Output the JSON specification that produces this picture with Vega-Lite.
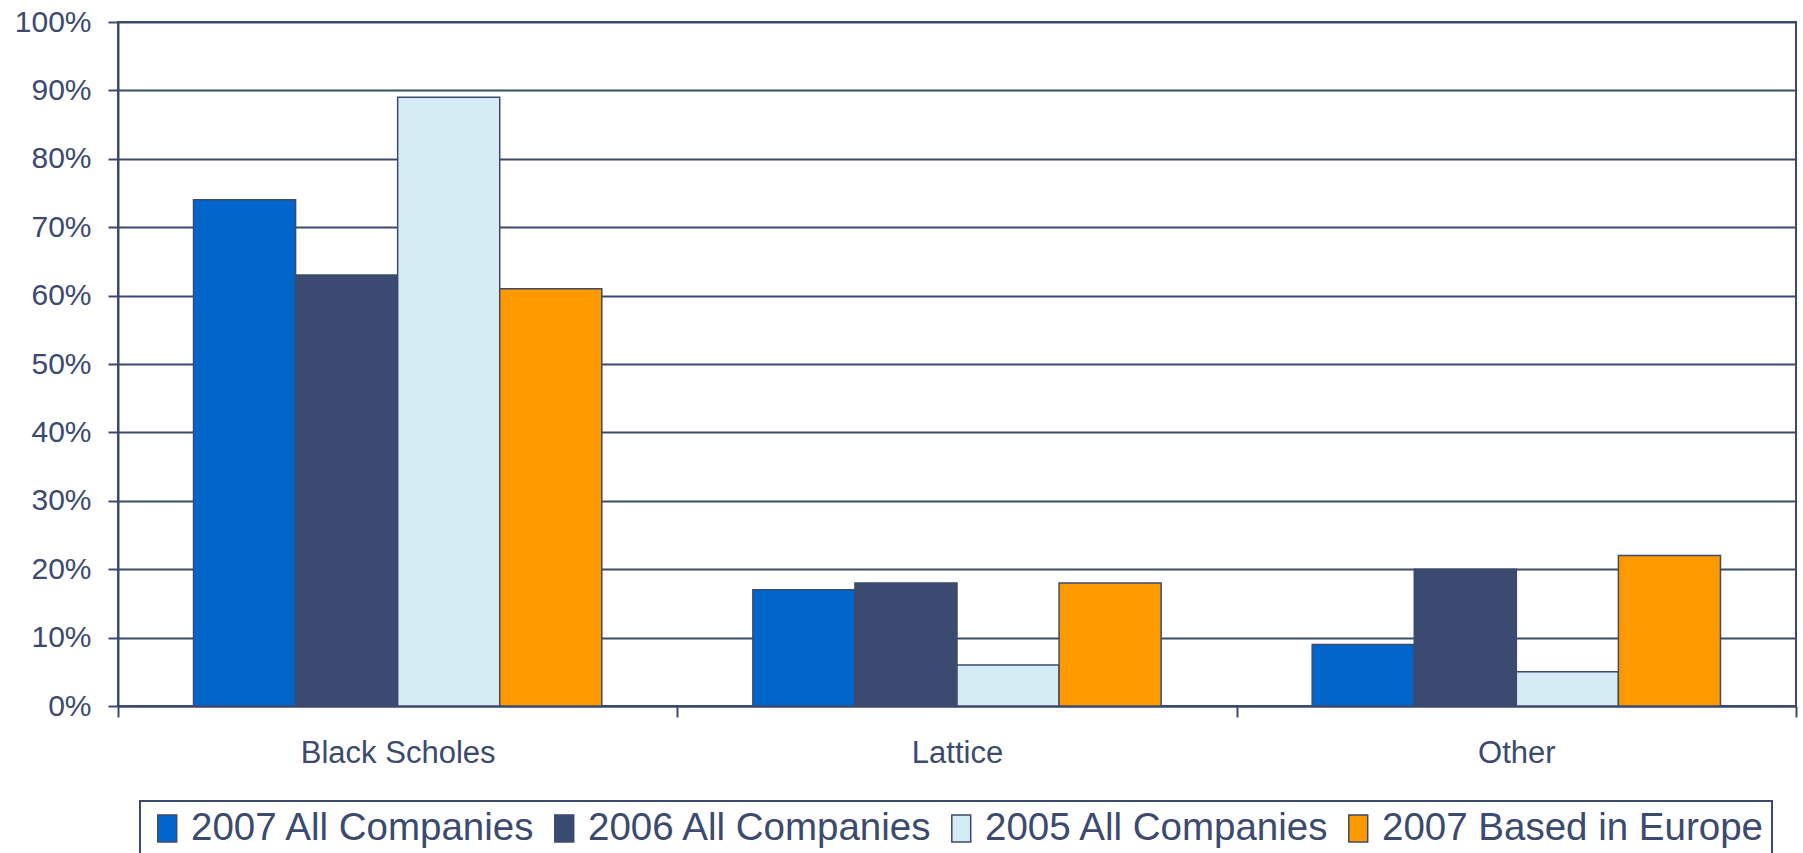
{
  "$schema": "https://vega.github.io/schema/vega-lite/v6.json",
  "autosize": {"type": "none"},
  "width": 1678,
  "height": 684,
  "padding": {"left": 118, "top": 22, "right": 7, "bottom": 147},
  "background": "white",
  "config": {
    "font": "Liberation Sans",
    "view": {"stroke": "#3b4a6e", "strokeWidth": 2},
    "legend": {"strokeWidth": 2}
  },
  "data": {
    "values": [
      {"method": "Black Scholes", "series": "2007 All Companies", "value": 74},
      {"method": "Black Scholes", "series": "2006 All Companies", "value": 63},
      {"method": "Black Scholes", "series": "2005 All Companies", "value": 89},
      {"method": "Black Scholes", "series": "2007 Based in Europe", "value": 61},
      {"method": "Lattice", "series": "2007 All Companies", "value": 17},
      {"method": "Lattice", "series": "2006 All Companies", "value": 18},
      {"method": "Lattice", "series": "2005 All Companies", "value": 6},
      {"method": "Lattice", "series": "2007 Based in Europe", "value": 18},
      {"method": "Other", "series": "2007 All Companies", "value": 9},
      {"method": "Other", "series": "2006 All Companies", "value": 20},
      {"method": "Other", "series": "2005 All Companies", "value": 5},
      {"method": "Other", "series": "2007 Based in Europe", "value": 22}
    ]
  },
  "mark": {"type": "bar", "stroke": "#3b4a6e", "strokeWidth": 1.5},
  "encoding": {
    "x": {
      "field": "method",
      "type": "nominal",
      "sort": ["Black Scholes", "Lattice", "Other"],
      "scale": {"paddingInner": 0, "paddingOuter": 0},
      "axis": {
        "title": null,
        "labelAngle": 0,
        "labelFontSize": 31,
        "labelLimit": 0,
        "labelColor": "#3b4a6e",
        "labelPadding": 21,
        "tickBand": "extent",
        "tickSize": 11,
        "tickWidth": 2,
        "tickColor": "#3b4a6e",
        "domainColor": "#3b4a6e",
        "domainWidth": 2,
        "grid": false
      }
    },
    "xOffset": {
      "field": "series",
      "type": "nominal",
      "sort": ["2007 All Companies", "2006 All Companies", "2005 All Companies", "2007 Based in Europe"],
      "scale": {"paddingInner": 0, "paddingOuter": 0.74}
    },
    "y": {
      "field": "value",
      "type": "quantitative",
      "scale": {"domain": [0, 100], "nice": false},
      "axis": {
        "title": null,
        "values": [0, 10, 20, 30, 40, 50, 60, 70, 80, 90, 100],
        "labelExpr": "datum.value + '%'",
        "labelFontSize": 30,
        "labelColor": "#3b4a6e",
        "labelPadding": 17,
        "tickSize": 10,
        "tickWidth": 2,
        "tickColor": "#3b4a6e",
        "domainColor": "#3b4a6e",
        "domainWidth": 2,
        "grid": true,
        "gridColor": "#3b4a6e",
        "gridWidth": 2,
        "gridOpacity": 1
      }
    },
    "color": {
      "field": "series",
      "type": "nominal",
      "sort": ["2007 All Companies", "2006 All Companies", "2005 All Companies", "2007 Based in Europe"],
      "scale": {
        "domain": ["2007 All Companies", "2006 All Companies", "2005 All Companies", "2007 Based in Europe"],
        "range": ["#0066cc", "#3b4a70", "#d6ecf5", "#ff9900"]
      },
      "legend": {
        "title": null,
        "orient": "none",
        "direction": "horizontal",
        "columns": 4,
        "legendX": 22,
        "legendY": 779,
        "padding": 8,
        "strokeColor": "#3b4a6e",
        "fillColor": "white",
        "labelFontSize": 38.5,
        "labelColor": "#3b4a6e",
        "labelOffset": 4.5,
        "labelLimit": 0,
        "columnPadding": 9,
        "symbolType": "M-0.7,-1L0.7,-1L0.7,1L-0.7,1Z",
        "symbolSize": 729,
        "symbolStrokeColor": "#3b4a6e",
        "symbolStrokeWidth": 1.5,
        "symbolOpacity": 1
      }
    }
  }
}
